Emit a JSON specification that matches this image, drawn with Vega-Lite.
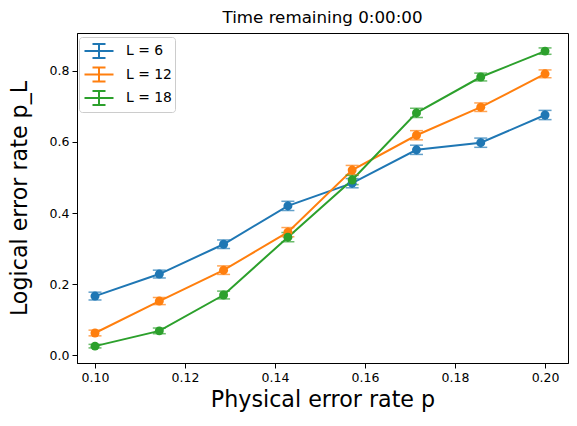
{
  "$schema": "https://vega.github.io/schema/vega-lite/v6.json",
  "width": 491,
  "height": 330,
  "autosize": {"type": "none"},
  "padding": {"left": 77, "top": 33, "right": 9, "bottom": 63},
  "background": "white",
  "title": {"text": "Time remaining 0:00:00", "fontSize": 16.7, "fontWeight": "normal", "font": "DejaVu Sans", "color": "black", "offset": 6},
  "data": {
    "values": [
      {"L": 6, "p": 0.1, "pL": 0.166, "err": 0.011},
      {"L": 6, "p": 0.11429, "pL": 0.228, "err": 0.011},
      {"L": 6, "p": 0.12857, "pL": 0.312, "err": 0.012},
      {"L": 6, "p": 0.14286, "pL": 0.42, "err": 0.013},
      {"L": 6, "p": 0.15714, "pL": 0.484, "err": 0.013},
      {"L": 6, "p": 0.17143, "pL": 0.578, "err": 0.013},
      {"L": 6, "p": 0.18571, "pL": 0.598, "err": 0.013},
      {"L": 6, "p": 0.2, "pL": 0.676, "err": 0.013},
      {"L": 12, "p": 0.1, "pL": 0.062, "err": 0.008},
      {"L": 12, "p": 0.11429, "pL": 0.152, "err": 0.01},
      {"L": 12, "p": 0.12857, "pL": 0.239, "err": 0.012},
      {"L": 12, "p": 0.14286, "pL": 0.346, "err": 0.013},
      {"L": 12, "p": 0.15714, "pL": 0.521, "err": 0.013},
      {"L": 12, "p": 0.17143, "pL": 0.619, "err": 0.013},
      {"L": 12, "p": 0.18571, "pL": 0.698, "err": 0.012},
      {"L": 12, "p": 0.2, "pL": 0.792, "err": 0.011},
      {"L": 18, "p": 0.1, "pL": 0.025, "err": 0.005},
      {"L": 18, "p": 0.11429, "pL": 0.068, "err": 0.008},
      {"L": 18, "p": 0.12857, "pL": 0.169, "err": 0.011},
      {"L": 18, "p": 0.14286, "pL": 0.332, "err": 0.013},
      {"L": 18, "p": 0.15714, "pL": 0.493, "err": 0.013},
      {"L": 18, "p": 0.17143, "pL": 0.682, "err": 0.013},
      {"L": 18, "p": 0.18571, "pL": 0.783, "err": 0.011},
      {"L": 18, "p": 0.2, "pL": 0.856, "err": 0.009}
    ]
  },
  "encoding": {
    "x": {
      "field": "p",
      "type": "quantitative",
      "scale": {"domain": [0.096, 0.2051], "nice": false, "zero": false},
      "axis": {
        "title": "Physical error rate p",
        "values": [0.1, 0.12, 0.14, 0.16, 0.18, 0.2],
        "format": ".2f",
        "titlePadding": 5
      }
    },
    "y": {
      "field": "pL",
      "type": "quantitative",
      "scale": {"domain": [-0.0225, 0.907], "nice": false, "zero": false},
      "axis": {
        "title": "Logical error rate p_L",
        "values": [0, 0.2, 0.4, 0.6, 0.8],
        "format": ".1f",
        "titlePadding": 18
      }
    },
    "color": {
      "field": "L",
      "type": "nominal",
      "scale": {"domain": [6, 12, 18], "range": ["#1f77b4", "#ff7f0e", "#2ca02c"]},
      "legend": {
        "title": null,
        "orient": "none",
        "legendX": 2,
        "legendY": 4,
        "labelExpr": "'L = ' + datum.label",
        "symbolType": "M-0.85,0H2.05M0.6,-0.7V0.7M-0.05,-0.7H1.25M-0.05,0.7H1.25",
        "symbolSize": 400,
        "symbolStrokeWidth": 2,
        "symbolOpacity": 1,
        "symbolFillColor": "transparent",
        "labelFontSize": 13.9,
        "labelFont": "DejaVu Sans",
        "labelColor": "black",
        "rowPadding": 1.5,
        "padding": 3,
        "strokeColor": "#cccccc",
        "fillColor": "white",
        "cornerRadius": 3,
        "labelOffset": 22
      }
    }
  },
  "layer": [
    {"mark": {"type": "line", "strokeWidth": 2}},
    {
      "mark": {"type": "errorbar", "ticks": {"size": 13, "thickness": 1.5}, "thickness": 1.5},
      "encoding": {"yError": {"field": "err"}}
    },
    {"mark": {"type": "point", "filled": true, "size": 80, "opacity": 1, "shape": "circle"}}
  ],
  "config": {
    "font": "DejaVu Sans",
    "view": {"stroke": "black", "strokeWidth": 1},
    "axis": {
      "grid": false,
      "domainColor": "black",
      "tickColor": "black",
      "tickSize": 5,
      "labelFontSize": 12.5,
      "labelColor": "black",
      "labelFont": "DejaVu Sans",
      "labelPadding": 3,
      "titleFontSize": 22.2,
      "titleFontWeight": "normal",
      "titleFont": "DejaVu Sans",
      "titleColor": "black"
    }
  }
}
